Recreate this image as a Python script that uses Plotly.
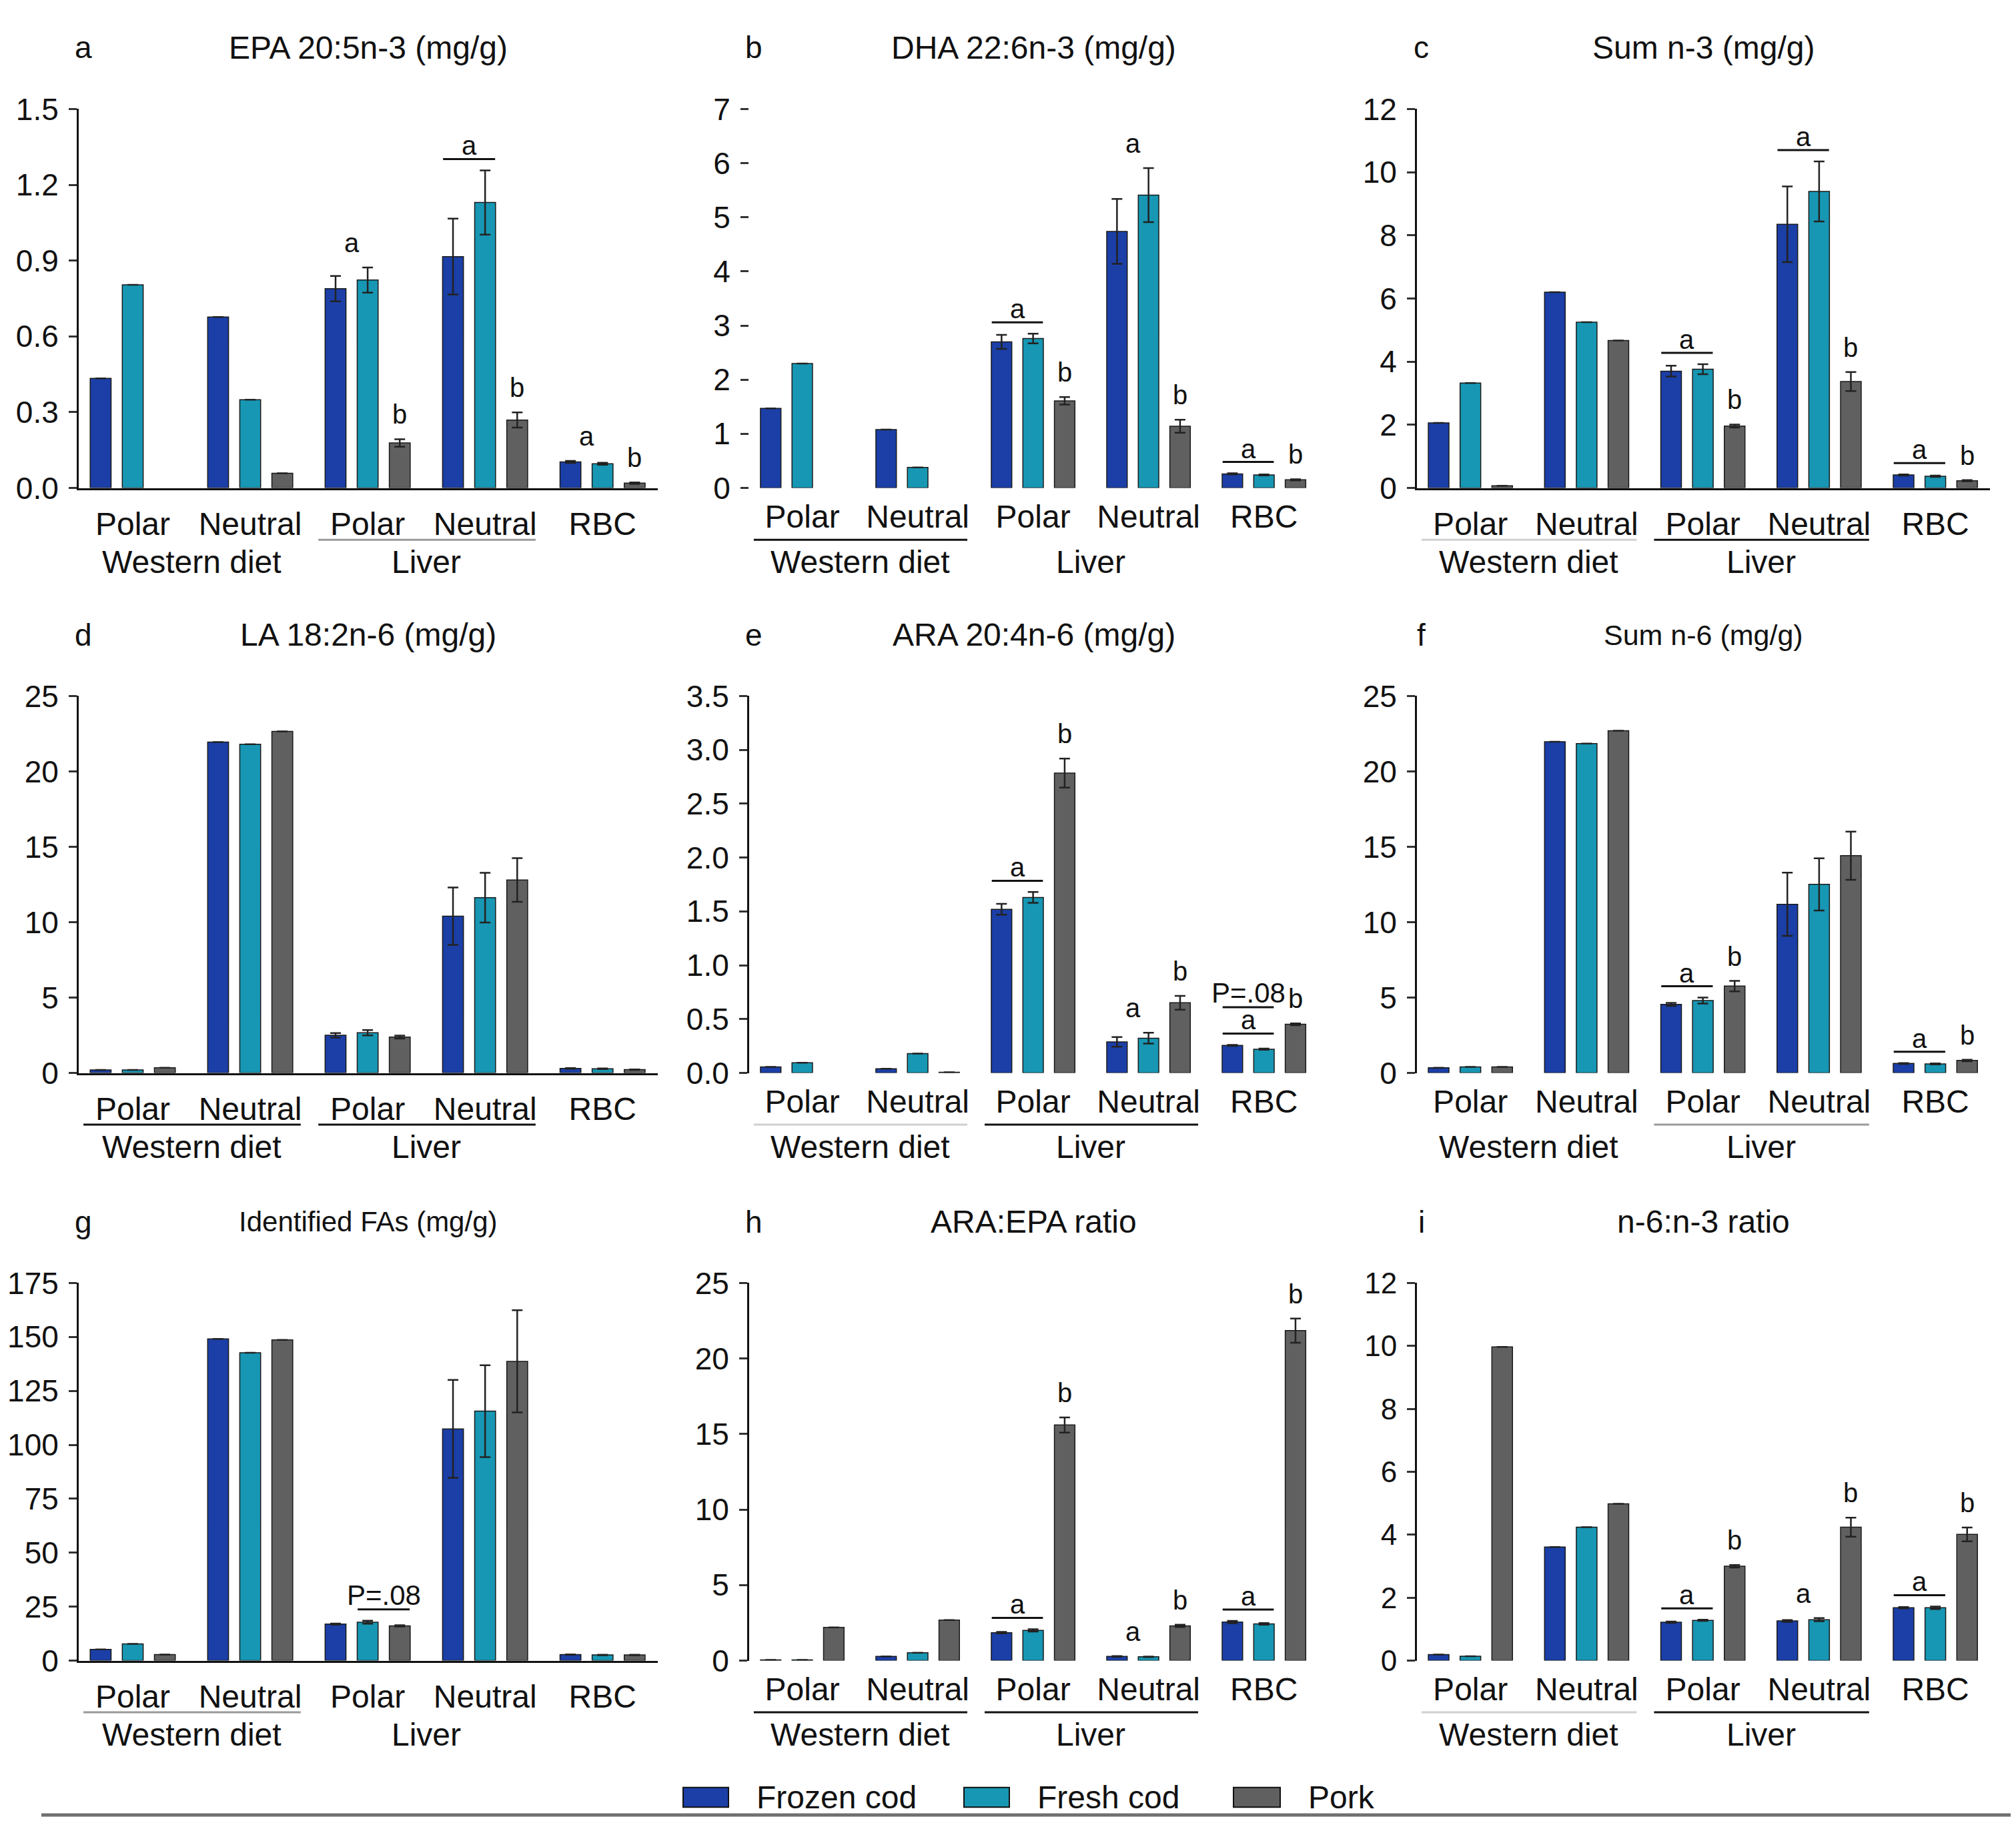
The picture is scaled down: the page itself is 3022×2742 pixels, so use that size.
import plotly.graph_objects as go
from plotly.subplots import make_subplots

W, H = 3022, 2742

GROUPS = ['Polar', 'Neutral', 'Polar', 'Neutral', 'RBC']
SERIES = ['Frozen cod', 'Fresh cod', 'Pork']
COLORS = ['#1b3fa6', '#1797b3', '#606060']

# each *_MEAN / *_SD holds [frozen cod, fresh cod, pork] over GROUPS
# sig entries: (group, bars, label, draw line, level)

# a  EPA 20:5n-3
EPA_MEAN = [[0.434, 0.677, 0.789, 0.916, 0.103],
            [0.804, 0.349, 0.823, 1.130, 0.096],
            [None, 0.058, 0.178, 0.269, 0.019]]
EPA_SD = [[0, 0, 0.05, 0.15, 0.004],
          [0, 0, 0.05, 0.127, 0.004],
          [0, 0, 0.015, 0.03, 0.003]]
EPA_SIG = [(2, [0, 1], 'a', False, 0), (2, [2], 'b', False, 0),
           (3, [0, 1], 'a', True, 0), (3, [2], 'b', False, 0),
           (4, [0, 1], 'a', False, 0), (4, [2], 'b', False, 0)]

# b  DHA 22:6n-3
DHA_MEAN = [[1.47, 1.08, 2.70, 4.74, 0.26],
            [2.30, 0.38, 2.76, 5.41, 0.24],
            [None, None, 1.61, 1.14, 0.15]]
DHA_SD = [[0, 0, 0.13, 0.6, 0.01],
          [0, 0, 0.09, 0.5, 0.01],
          [0, 0, 0.07, 0.12, 0.01]]
DHA_SIG = [(2, [0, 1], 'a', True, 0), (2, [2], 'b', False, 0),
           (3, [0, 1], 'a', False, 0), (3, [2], 'b', False, 0),
           (4, [0, 1], 'a', True, 0), (4, [2], 'b', False, 0)]

# c  Sum n-3
N3_MEAN = [[2.06, 6.20, 3.70, 8.35, 0.41],
           [3.32, 5.25, 3.76, 9.39, 0.37],
           [0.07, 4.67, 1.96, 3.37, 0.23]]
N3_SD = [[0, 0, 0.17, 1.2, 0.02],
         [0, 0, 0.16, 0.95, 0.02],
         [0, 0, 0.05, 0.3, 0.02]]
N3_SIG = [(2, [0, 1], 'a', True, 0), (2, [2], 'b', False, 0),
          (3, [0, 1], 'a', True, 0), (3, [2], 'b', False, 0),
          (4, [0, 1], 'a', True, 0), (4, [2], 'b', False, 0)]

# d  LA 18:2n-6
LA_MEAN = [[0.2, 21.95, 2.5, 10.4, 0.3],
           [0.2, 21.8, 2.67, 11.63, 0.28],
           [0.35, 22.65, 2.38, 12.8, 0.22]]
LA_SD = [[0, 0, 0.15, 1.9, 0.02],
         [0, 0, 0.18, 1.65, 0.02],
         [0, 0, 0.1, 1.45, 0.02]]
LA_SIG = []

# e  ARA 20:4n-6
ARA_MEAN = [[0.056, 0.039, 1.52, 0.288, 0.256],
            [0.095, 0.18, 1.63, 0.323, 0.221],
            [None, 0.007, 2.785, 0.652, 0.452]]
ARA_SD = [[0, 0, 0.05, 0.045, 0.005],
          [0, 0, 0.05, 0.05, 0.005],
          [0, 0, 0.135, 0.064, 0.008]]
ARA_SIG = [(2, [0, 1], 'a', True, 0), (2, [2], 'b', False, 0),
           (3, [0, 1], 'a', False, 0), (3, [2], 'b', False, 0),
           (4, [0, 1], 'a', True, 0), (4, [2], 'b', False, 0),
           (4, [0, 1], 'P=.08', True, 1)]

# f  Sum n-6
N6_MEAN = [[0.35, 21.97, 4.55, 11.19, 0.63],
           [0.4, 21.85, 4.80, 12.51, 0.60],
           [0.4, 22.7, 5.76, 14.41, 0.83]]
N6_SD = [[0, 0, 0.1, 2.1, 0.03],
         [0, 0, 0.2, 1.73, 0.03],
         [0, 0, 0.35, 1.6, 0.05]]
N6_SIG = [(2, [0, 1], 'a', True, 0), (2, [2], 'b', False, 0),
          (4, [0, 1], 'a', True, 0), (4, [2], 'b', False, 0)]

# g  Identified FAs
FA_MEAN = [[5.2, 149.1, 16.9, 107.4, 2.8],
           [7.7, 142.7, 17.8, 115.6, 2.6],
           [2.8, 148.6, 16.1, 138.7, 2.6]]
FA_SD = [[0, 0, 0.3, 22.7, 0.1],
         [0, 0, 0.7, 21.3, 0.1],
         [0, 0, 0.3, 23.7, 0.1]]
FA_SIG = [(2, [1, 2], 'P=.08', True, 0)]

# h  ARA:EPA ratio
AE_MEAN = [[0.05, 0.28, 1.85, 0.28, 2.55],
           [0.05, 0.52, 2.0, 0.25, 2.43],
           [2.2, 2.68, 15.6, 2.3, 21.85]]
AE_SD = [[0, 0, 0.05, 0.02, 0.08],
         [0, 0, 0.08, 0.02, 0.05],
         [0, 0, 0.5, 0.08, 0.8]]
AE_SIG = [(2, [0, 1], 'a', True, 0), (2, [2], 'b', False, 0),
          (3, [0, 1], 'a', False, 0), (3, [2], 'b', False, 0),
          (4, [0, 1], 'a', True, 0), (4, [2], 'b', False, 0)]

# i  n-6:n-3 ratio
R63_MEAN = [[0.19, 3.61, 1.22, 1.26, 1.68],
            [0.14, 4.24, 1.28, 1.30, 1.68],
            [9.97, 4.98, 3.0, 4.24, 4.01]]
R63_SD = [[0, 0, 0.02, 0.03, 0.02],
          [0, 0, 0.02, 0.05, 0.04],
          [0, 0, 0.04, 0.3, 0.22]]
R63_SIG = [(2, [0, 1], 'a', True, 0), (2, [2], 'b', False, 0),
           (3, [0, 1], 'a', False, 0), (3, [2], 'b', False, 0),
           (4, [0, 1], 'a', True, 0), (4, [2], 'b', False, 0)]

BLACK, GREY, LIGHT = '#111111', '#9a9a9a', '#d0d0d0'

PANELS = [
    dict(tag='a', title='EPA 20:5n-3 (mg/g)', mean=EPA_MEAN, sd=EPA_SD, sig=EPA_SIG,
         ymax=1.5, dtick=0.3, fmt='.1f', under=(None, GREY), xline=True, yline=True),
    dict(tag='b', title='DHA 22:6n-3 (mg/g)', mean=DHA_MEAN, sd=DHA_SD, sig=DHA_SIG,
         ymax=7, dtick=1, fmt='d', under=(BLACK, None), xline=False, yline=False),
    dict(tag='c', title='Sum n-3 (mg/g)', mean=N3_MEAN, sd=N3_SD, sig=N3_SIG,
         ymax=12, dtick=2, fmt='d', under=(LIGHT, BLACK), xline=True, yline=True),
    dict(tag='d', title='LA 18:2n-6 (mg/g)', mean=LA_MEAN, sd=LA_SD, sig=LA_SIG,
         ymax=25, dtick=5, fmt='d', under=(BLACK, BLACK), xline=True, yline=True),
    dict(tag='e', title='ARA 20:4n-6 (mg/g)', mean=ARA_MEAN, sd=ARA_SD, sig=ARA_SIG,
         ymax=3.5, dtick=0.5, fmt='.1f', under=(LIGHT, BLACK), xline=False, yline=True),
    dict(tag='f', title='Sum n-6 (mg/g)', mean=N6_MEAN, sd=N6_SD, sig=N6_SIG,
         ymax=25, dtick=5, fmt='d', under=(None, GREY), xline=False, yline=True),
    dict(tag='g', title='Identified FAs (mg/g)', mean=FA_MEAN, sd=FA_SD, sig=FA_SIG,
         ymax=175, dtick=25, fmt='d', under=(GREY, None), xline=True, yline=True),
    dict(tag='h', title='ARA:EPA ratio', mean=AE_MEAN, sd=AE_SD, sig=AE_SIG,
         ymax=25, dtick=5, fmt='d', under=(BLACK, BLACK), xline=False, yline=True),
    dict(tag='i', title='n-6:n-3 ratio', mean=R63_MEAN, sd=R63_SD, sig=R63_SIG,
         ymax=12, dtick=2, fmt='d', under=(LIGHT, BLACK), xline=False, yline=True),
]

# panel boxes in pixels
COL_X = [(110, 978), (1115, 1968), (2116, 2975)]
ROW_Y = [(132, 711), (1029, 1605), (1926, 2503)]

FONT = 'Liberation Sans, Arial, sans-serif'
BAR_OFF = [-0.273, 0.0, 0.273]

fig = make_subplots(rows=3, cols=3)
shapes, annos = [], []

for k, p in enumerate(PANELS):
    r, c = divmod(k, 3)
    n = k + 1
    sx = '' if n == 1 else str(n)
    for s in range(3):
        fig.add_trace(go.Bar(
            x=list(range(len(GROUPS))), y=p['mean'][s], name=SERIES[s],
            marker=dict(color=COLORS[s], line=dict(color='#1a1a1a', width=1.5)),
            error_y=dict(type='data', array=p['sd'][s], color='#222222',
                         thickness=2.5, width=8),
            showlegend=False), row=r + 1, col=c + 1)

    x0, x1 = COL_X[c]
    y0, y1 = ROW_Y[r]
    fig.update_layout({
        f'xaxis{sx}': dict(domain=[x0 / W, x1 / W], range=[-0.46, 4.47],
                           tickvals=list(range(len(GROUPS))), ticktext=GROUPS,
                           ticks='', showgrid=False, zeroline=False,
                           showline=p['xline'], linecolor='#111111', linewidth=3,
                           tickfont=dict(size=48, color='#111111'),
                           ticklabelstandoff=10),
        f'yaxis{sx}': dict(domain=[1 - y1 / H, 1 - y0 / H], range=[0, p['ymax']],
                           dtick=p['dtick'], tick0=0, tickformat=p['fmt'],
                           ticks='outside', ticklen=12, tickwidth=2.5,
                           tickcolor='#333333', showgrid=False, zeroline=False,
                           showline=p['yline'], linecolor='#111111', linewidth=3,
                           tickfont=dict(size=44 if p['tag'] == 'i' else 46,
                                         color='#111111'),
                           ticklabelstandoff=6),
    })

    xr, yr = 'x' + sx, 'y' + sx
    # titles and panel letters
    tsize = {'f': 43, 'g': 42}.get(p['tag'], 48)
    annos.append(dict(text=p['title'], xref=xr + ' domain', yref=yr + ' domain',
                      x=0.5, y=1.162, xanchor='center', yanchor='middle',
                      showarrow=False, font=dict(size=tsize)))
    annos.append(dict(text=p['tag'], xref=xr + ' domain', yref=yr + ' domain',
                      x=0.008, y=1.162, xanchor='center', yanchor='middle',
                      showarrow=False, font=dict(size=46)))

    # group labels and their underlines
    for gi, (label, lo, hi) in enumerate([('Western diet', 0, 1), ('Liver', 2, 3)]):
        annos.append(dict(text=label, xref=xr, yref=yr + ' domain',
                          x=(lo + hi) / 2, y=-0.196, xanchor='center',
                          yanchor='middle', showarrow=False, font=dict(size=48)))
        col = p['under'][gi]
        if col:
            shapes.append(dict(type='line', xref=xr, yref=yr + ' domain',
                               x0=lo - 0.42, x1=hi + 0.43, y0=-0.137, y1=-0.137,
                               line=dict(color=col, width=3)))

    # significance letters
    rng = p['ymax']
    for g, bars, label, draw, level in p['sig']:
        tops = [p['mean'][b][g] + p['sd'][b][g] for b in bars
                if p['mean'][b][g] is not None]
        ly = max(tops) + 0.03 * rng + level * 0.07 * rng
        xs = [g + BAR_OFF[b] for b in bars]
        if draw:
            shapes.append(dict(type='line', xref=xr, yref=yr,
                               x0=min(xs) - 0.085, x1=max(xs) + 0.085, y0=ly, y1=ly,
                               line=dict(color='#111111', width=3)))
        annos.append(dict(text=label, xref=xr, yref=yr, x=sum(xs) / len(xs), y=ly,
                          xanchor='center', yanchor='bottom', showarrow=False,
                          yshift=-4,
                          font=dict(size=42 if label.startswith('P') else 40)))

# legend drawn as boxes + labels under the grid
LEG_X = [(1016, 1084), (1437, 1505), (1841, 1911)]
LEG_Y = 2712
for s, (lx0, lx1) in enumerate(LEG_X):
    shapes.append(dict(type='rect', xref='paper', yref='paper',
                       x0=lx0 / W, x1=lx1 / W,
                       y0=1 - (LEG_Y + 15) / H, y1=1 - (LEG_Y - 15) / H,
                       fillcolor=COLORS[s], line=dict(color='#111111', width=2)))
    annos.append(dict(text=SERIES[s], xref='paper', yref='paper',
                      x=(lx1 + 40) / W, y=1 - LEG_Y / H, xanchor='left',
                      yanchor='middle', showarrow=False, font=dict(size=48)))

shapes.append(dict(type='line', xref='paper', yref='paper', x0=54 / W, x1=1,
                   y0=1 - 2739 / H, y1=1 - 2739 / H,
                   line=dict(color='#707070', width=5)))

fig.update_layout(
    width=W, height=H, margin=dict(l=0, r=0, t=0, b=0),
    barmode='group', bargap=0.18, bargroupgap=0.35,
    plot_bgcolor='white', paper_bgcolor='white', showlegend=False,
    font=dict(family=FONT, color='#111111'),
    shapes=shapes, annotations=annos,
)

fig.write_html('out.html')
